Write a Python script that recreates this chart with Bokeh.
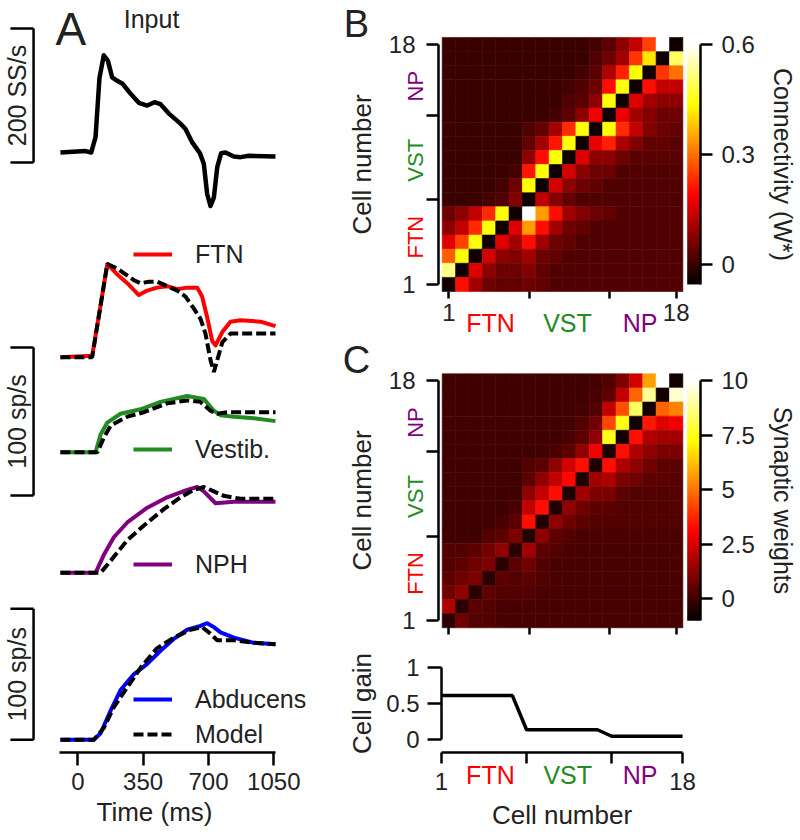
import numpy as np
from math import pi
from bokeh.plotting import figure
from bokeh.models import (Range1d, LinearAxis, FixedTicker, Legend, LegendItem, Label,
                          LinearColorMapper, ColumnDataSource)
from bokeh.layouts import row, column
from bokeh.embed import file_html
from bokeh.resources import INLINE
from bokeh.core.properties import value
from bokeh.transform import linear_cmap

FONT = "Liberation Sans"
INK = "#222222"
RED, GREEN, PURPLE, BLUE = "#ff0000", "#228b22", "#800080", "#0000ff"

# ---------------- Panel A data (time in ms, rates relative to baseline) ----------------
time_ticks = [0, 350, 700, 1050]
input_t = [-93, 41, 72, 95, 116, 139, 161, 184, 211, 238, 282, 327, 372, 411, 443, 488, 550, 577,
           613, 654, 675, 693, 711, 729, 747, 768, 791, 836, 872, 916, 1059]
input_v = [15, 17, 15, 38, 126, 160, 152, 127, 122, 118, 103, 89, 85, 90, 87, 73, 58, 50,
           30, 14, -2, -47, -65, -52, -7, 14, 15, 9, 8, 10, 9]

ftn_t = [-93, 77, 122, 158, 211, 265, 327, 372, 425, 479, 533, 586, 640, 666, 693, 720, 738, 774, 818, 872, 979, 1059]
ftn_v = [0, 1, 35, 63, 56, 50, 42, 45, 47, 48, 46, 47, 47, 41, 27, 11, 8, 17, 24, 25, 24, 21]
ftn_model_t = [-93, 77, 158, 211, 256, 301, 336, 381, 425, 479, 533, 577, 621, 657, 684, 711, 729, 747, 774, 818, 1059]
ftn_model_v = [0, 0, 63, 60, 56, 52, 50, 51, 51, 48, 45, 41, 33, 26, 16, -2, -10, -2, 10, 16, 16]

vest_t = [-93, 95, 122, 158, 229, 336, 443, 586, 675, 729, 765, 836, 943, 1059]
vest_v = [0, 0, 12, 20, 26, 29, 34, 38, 36, 28, 25, 24, 23, 21]
vest_model_t = [-93, 105, 140, 176, 265, 354, 479, 586, 657, 711, 747, 800, 1059]
vest_model_v = [0, 0, 10, 18, 24, 27, 33, 35, 34, 28, 26, 27, 27]

nph_t = [-93, 95, 139, 193, 265, 372, 479, 586, 640, 675, 738, 836, 1059]
nph_v = [0, 0, 12, 24, 34, 44, 51, 56, 58, 55, 47, 48, 48]
nph_model_t = [-93, 122, 175, 265, 354, 461, 550, 621, 675, 729, 782, 872, 1059]
nph_model_v = [0, 0, 8, 22, 32, 43, 51, 56, 58, 55, 52, 50, 50]

abd_t = [-93, 86, 122, 175, 229, 300, 372, 443, 514, 586, 657, 693, 729, 765, 836, 943, 1059]
abd_v = [0, 0, 5, 22, 38, 50, 58, 68, 77, 84, 87, 89, 86, 82, 78, 74, 73]
abd_model_t = [-93, 86, 139, 193, 265, 336, 425, 514, 604, 666, 702, 747, 836, 943, 1059]
abd_model_v = [0, 0, 9, 25, 40, 55, 70, 78, 84, 86, 82, 76, 76, 74, 73]

input_scale = 200   # SS/s
rate_scale = 100    # sp/s

# ---------------- Panel B / C data (rows listed from cell 18 at top down to cell 1) ----------------
cells = list(range(1, 19))
cell_ticks = [1, 7, 13, 18]
groups = ["FTN", "VST", "NP"]
group_colors = [RED, GREEN, PURPLE]

connectivity_rows = [
    [0, 0, 0, 0, 0, 0, 0, 0, 0, 0, 0, 0.01, 0.03, 0.08, 0.13, 0.25, 0.62, -0.04],
    [0, 0, 0, 0, 0, 0, 0, 0, 0, 0, 0, 0.02, 0.05, 0.10, 0.24, 0.41, -0.04, 0.50],
    [0, 0, 0, 0, 0, 0, 0, 0, 0, 0, 0.01, 0.03, 0.11, 0.22, 0.44, -0.04, 0.24, 0.30],
    [0, 0, 0, 0, 0, 0, 0, 0, 0, 0.01, 0.02, 0.05, 0.20, 0.44, -0.04, 0.20, 0.13, 0.13],
    [0, 0, 0, 0, 0, 0, 0, 0, 0, 0.02, 0.03, 0.08, 0.44, -0.04, 0.16, 0.10, 0.08, 0.08],
    [0, 0, 0, 0, 0, 0, 0, 0, 0.01, 0.03, 0.08, 0.18, -0.04, 0.17, 0.10, 0.07, 0.05, 0.05],
    [0, 0, 0, 0, 0, 0, 0.02, 0.04, 0.10, 0.23, 0.44, -0.04, 0.44, 0.23, 0.13, 0.07, 0.05, 0.04],
    [0, 0, 0, 0, 0, 0, 0.04, 0.10, 0.21, 0.44, -0.04, 0.17, 0.22, 0.11, 0.07, 0.04, 0.04, 0.03],
    [0, 0, 0, 0, 0, 0, 0.08, 0.20, 0.44, -0.04, 0.16, 0.08, 0.08, 0.05, 0.03, 0.03, 0.03, 0.03],
    [0, 0, 0, 0, 0, 0.01, 0.21, 0.44, -0.04, 0.15, 0.08, 0.05, 0.05, 0.02, 0.02, 0.02, 0.02, 0.02],
    [0, 0, 0, 0, 0.01, 0.05, 0.44, -0.04, 0.15, 0.08, 0.05, 0.04, 0.02, 0.02, 0.02, 0.02, 0.02, 0.02],
    [0, 0, 0, 0.01, 0.02, 0.07, -0.04, 0.13, 0.07, 0.04, 0.02, 0.02, 0.02, 0.02, 0.02, 0.02, 0.02, 0.02],
    [0.05, 0.08, 0.13, 0.23, 0.44, -0.04, 0.62, 0.34, 0.20, 0.10, 0.07, 0.05, 0.04, 0.02, 0.02, 0.02, 0.02, 0.02],
    [0.08, 0.13, 0.23, 0.44, -0.04, 0.16, 0.34, 0.20, 0.10, 0.05, 0.04, 0.02, 0.02, 0.02, 0.02, 0.02, 0.02, 0.02],
    [0.16, 0.25, 0.44, -0.04, 0.16, 0.10, 0.20, 0.10, 0.05, 0.04, 0.02, 0.02, 0.02, 0.02, 0.02, 0.02, 0.02, 0.02],
    [0.28, 0.44, -0.04, 0.15, 0.08, 0.07, 0.10, 0.05, 0.04, 0.02, 0.02, 0.02, 0.02, 0.02, 0.02, 0.02, 0.02, 0.02],
    [0.52, -0.04, 0.16, 0.08, 0.05, 0.05, 0.07, 0.04, 0.02, 0.02, 0.02, 0.02, 0.02, 0.02, 0.02, 0.02, 0.02, 0.02],
    [-0.04, 0.20, 0.10, 0.05, 0.04, 0.04, 0.05, 0.04, 0.02, 0.02, 0.02, 0.02, 0.02, 0.02, 0.02, 0.02, 0.02, 0.02],
]
connectivity_ticks = [0, 0.3, 0.6]
connectivity_limits = (-0.0545, 0.6)

weight_rows = [
    [0, 0, 0, 0, 0, 0, 0, 0, 0, 0, 0, 0.1, 0.3, 1.0, 2.4, 5.7, 10.0, -0.7],
    [0, 0, 0, 0, 0, 0, 0, 0, 0, 0, 0, 0.2, 0.5, 2.1, 4.7, 8.8, -0.7, 9.5],
    [0, 0, 0, 0, 0, 0, 0, 0, 0, 0, 0.1, 0.3, 2.1, 4.4, 8.3, -0.7, 4.7, 5.2],
    [0, 0, 0, 0, 0, 0, 0, 0, 0, 0.1, 0.3, 0.8, 4.2, 7.5, -0.7, 3.5, 2.6, 2.9],
    [0, 0, 0, 0, 0, 0, 0, 0, 0, 0.2, 0.5, 1.3, 7.5, -0.7, 3.3, 1.8, 1.6, 1.6],
    [0, 0, 0, 0, 0, 0, 0, 0, 0.2, 0.5, 1.3, 2.9, -0.6, 3.3, 1.8, 1.3, 1.0, 1.0],
    [0, 0, 0, 0, 0, 0, 0.3, 0.5, 1.3, 2.4, 3.3, -0.5, 3.3, 1.8, 1.3, 0.8, 0.5, 0.5],
    [0, 0, 0, 0, 0, 0, 0.5, 1.3, 2.1, 3.2, -0.5, 1.6, 1.8, 1.0, 0.8, 0.5, 0.5, 0.4],
    [0, 0, 0, 0, 0, 0, 1.3, 2.1, 3.3, -0.5, 1.6, 1.0, 1.0, 0.5, 0.3, 0.3, 0.3, 0.3],
    [0, 0, 0, 0, 0, 0.2, 2.1, 3.3, -0.5, 1.3, 0.8, 0.5, 0.5, 0.3, 0.3, 0.3, 0.3, 0.3],
    [0, 0, 0, 0, 0.2, 0.5, 3.3, -0.5, 1.3, 0.8, 0.5, 0.3, 0.3, 0.3, 0.3, 0.3, 0.3, 0.3],
    [0, 0, 0, 0.3, 0.5, 1.0, -0.4, 1.3, 0.5, 0.3, 0.2, 0.2, 0.2, 0.2, 0.2, 0.2, 0.2, 0.2],
    [0.3, 0.3, 0.5, 0.8, 1.3, -0.3, 1.6, 0.5, 0.3, 0.15, 0.15, 0.15, 0.15, 0.15, 0.15, 0.15, 0.15, 0.15],
    [0.3, 0.5, 0.8, 1.0, -0.3, 0.5, 0.8, 0.3, 0.15, 0.15, 0.15, 0.15, 0.15, 0.15, 0.15, 0.15, 0.15, 0.15],
    [0.5, 0.8, 1.0, -0.3, 0.5, 0.3, 0.5, 0.3, 0.15, 0.15, 0.15, 0.15, 0.15, 0.15, 0.15, 0.15, 0.15, 0.15],
    [0.8, 1.3, -0.3, 0.5, 0.3, 0.3, 0.3, 0.15, 0.15, 0.15, 0.15, 0.15, 0.15, 0.15, 0.15, 0.15, 0.15, 0.15],
    [1.8, -0.3, 0.5, 0.3, 0.15, 0.15, 0.15, 0.15, 0.15, 0.15, 0.15, 0.15, 0.15, 0.15, 0.15, 0.15, 0.15, 0.15],
    [-0.3, 0.8, 0.3, 0.3, 0.15, 0.15, 0.15, 0.15, 0.15, 0.15, 0.15, 0.15, 0.15, 0.15, 0.15, 0.15, 0.15, 0.15],
]
weight_ticks = [0, 2.5, 5, 7.5, 10]
weight_limits = (-1.0, 10.0)

cell_gain = [0.61, 0.61, 0.61, 0.61, 0.61, 0.61, 0.135, 0.135, 0.135, 0.135, 0.135, 0.135,
             0.045, 0.045, 0.045, 0.045, 0.045, 0.045]
gain_ticks = [0, 0.5, 1]


def hot_palette(n=256):
    n1 = int(3 * n / 8); n2 = n1; n3 = n - n1 - n2
    out = []
    for i in range(n):
        r = min(1.0, (i + 1) / n1)
        g = min(1.0, max(0.0, (i + 1 - n1) / n2))
        b = min(1.0, max(0.0, (i + 1 - n1 - n2) / n3))
        out.append("#%02x%02x%02x" % (round(r * 255), round(g * 255), round(b * 255)))
    return out


HOT = hot_palette()


def style_axis(ax, tick_out, label_standoff, title_standoff=None, title_size="26px"):
    ax.axis_line_width = 2.5
    ax.major_tick_line_width = 2.5
    ax.major_tick_out = tick_out
    ax.major_tick_in = 0
    ax.minor_tick_out = 0
    ax.minor_tick_in = 0
    ax.major_label_text_font = FONT
    ax.major_label_text_font_size = "24px"
    ax.major_label_text_color = INK
    ax.major_label_standoff = label_standoff
    ax.axis_label_text_font = FONT
    ax.axis_label_text_font_size = title_size
    ax.axis_label_text_font_style = "normal"
    ax.axis_label_text_color = INK
    if title_standoff is not None:
        ax.axis_label_standoff = title_standoff


def overrides(ticks, shown):
    return {t: (str(t) if t in shown else "") for t in ticks}


def bare_figure(width, height, x_range, y_range):
    p = figure(frame_width=width, frame_height=height, x_range=x_range, y_range=y_range,
               x_axis_location=None, y_axis_location=None, toolbar_location=None,
               output_backend="svg", min_border_left=0, min_border_right=0,
               min_border_top=0, min_border_bottom=0)
    p.grid.visible = False
    p.outline_line_color = None
    return p


def add_label(p, x, y, text, color=INK, size="25px", angle=0, align="center", **kw):
    p.add_layout(Label(x=x, y=y, text=text, angle=angle, text_align=align,
                       text_baseline="middle", text_font=FONT, text_font_size=size,
                       text_color=color, **kw))


# ---------------- Panel A ----------------
A_TOP, A_BOTTOM = 0, 752   # frame top/bottom on the page
T0_PX, PX_PER_MS = 77.3, 0.18667


def anchored(zero_py, px_per_unit):
    return Range1d(start=-(A_BOTTOM - zero_py) / px_per_unit, end=(zero_py - A_TOP) / px_per_unit)


pA = figure(frame_width=308, frame_height=752,
            x_range=Range1d(-T0_PX / PX_PER_MS, (308 - T0_PX) / PX_PER_MS), y_range=Range1d(0, 1),
            y_axis_type=None, toolbar_location=None, output_backend="svg",
            min_border_left=0, min_border_right=0, min_border_top=0, min_border_bottom=80)
pA.extra_y_ranges = {
    "input": anchored(162, 0.67),
    "ftn": anchored(356.7, 1.48),
    "vest": anchored(451.7, 1.48),
    "nph": anchored(572.3, 1.48),
    "midbar": anchored(495, 1.48),
    "abd": anchored(739.3, 1.31),
}
pA.grid.visible = False
pA.outline_line_color = None

pA.line(input_t, input_v, y_range_name="input", color="black", line_width=4.5, line_join="round")
r_ftn = pA.line(ftn_t, ftn_v, y_range_name="ftn", color=RED, line_width=4, line_join="round")
pA.line(ftn_model_t, ftn_model_v, y_range_name="ftn", color="black", line_width=4, line_dash="10 4")
r_vest = pA.line(vest_t, vest_v, y_range_name="vest", color=GREEN, line_width=4, line_join="round")
pA.line(vest_model_t, vest_model_v, y_range_name="vest", color="black", line_width=4, line_dash="10 4")
r_nph = pA.line(nph_t, nph_v, y_range_name="nph", color=PURPLE, line_width=4, line_join="round")
pA.line(nph_model_t, nph_model_v, y_range_name="nph", color="black", line_width=4, line_dash="10 4")
r_abd = pA.line(abd_t, abd_v, y_range_name="abd", color=BLUE, line_width=4, line_join="round")
r_model = pA.line(abd_model_t, abd_model_v, y_range_name="abd", color="black", line_width=4, line_dash="10 4")

# scale bars
BAR_X, BAR_TICK_X, BAR_LABEL_X = -237, -361, -328
for rng, size, label in [("input", input_scale, "200 SS/s"), ("midbar", rate_scale, "100 sp/s"),
                         ("abd", rate_scale, "100 sp/s")]:
    pA.segment(x0=[BAR_X, BAR_TICK_X, BAR_TICK_X], y0=[0, 0, size], x1=[BAR_X, BAR_X, BAR_X],
               y1=[size, 0, size], y_range_name=rng, color="black", line_width=2.5)
    pA.text(x=[BAR_LABEL_X], y=[size / 2], text=[label], angle=pi / 2, y_range_name=rng,
            text_align="center", text_baseline="middle", text_font=value(FONT),
            text_font_size="25px", text_color=INK)

ax = pA.xaxis[0]
ax.ticker = FixedTicker(ticks=time_ticks)
ax.bounds = (-100, 1060)
ax.axis_label = "Time (ms)"
style_axis(ax, 13, 7, 4)

add_label(pA, -120, 199, "A", size="46px", align="left", y_range_name="input")
add_label(pA, 395, 214, "Input", size="25px", y_range_name="input")


def legend(items, vy):
    lg = Legend(items=[LegendItem(label=value(t), renderers=[r]) for t, r in items],
                location=(133, vy), padding=0, margin=0, spacing=5, glyph_width=39,
                glyph_height=30, label_height=30, label_standoff=23,
                label_text_font=FONT, label_text_font_size="25px", label_text_color=INK,
                background_fill_alpha=0, border_line_alpha=0)
    pA.add_layout(lg)


legend([("FTN", r_ftn)], 483)
legend([("Vestib.", r_vest)], 288)
legend([("NPH", r_nph)], 173)
legend([("Abducens", r_abd), ("Model", r_model)], 3)

# ---------------- Panels B and C (frame = whole panel, axes at fixed places) ----------------
RIGHT_X0, RIGHT_X1 = 308, 800      # page x span of the right column
CELL_W, CELL_H = 13.37, 14.11
MAP_LEFT = 441.7                    # page x of the first cell's left edge


def hx(px):
    return 0.5 + (px - MAP_LEFT) / CELL_W


def heatmap(rows, limits, ticks, cb_label, letter, page_top, page_bottom, map_bottom, x_labels):
    lo, hi = limits

    def hy(py):
        return 0.5 + (map_bottom - py) / CELL_H

    y0, y1 = hy(page_bottom), hy(page_top)
    p = bare_figure(RIGHT_X1 - RIGHT_X0, page_bottom - page_top,
                    Range1d(hx(RIGHT_X0), hx(RIGHT_X1)), Range1d(y0, y1))

    xs, ys, vs = [], [], []
    for i, r in enumerate(rows):
        for j, v in enumerate(r):
            xs.append(cells[j]); ys.append(cells[17 - i]); vs.append(v)
    src = ColumnDataSource(dict(x=xs, y=ys, v=vs))
    cmap = linear_cmap("v", HOT, lo, hi)
    p.rect(x="x", y="y", width=1, height=1, source=src, fill_color=cmap, line_color=cmap,
           line_width=0.6)

    # colour bar: its value axis maps cell 1 -> lo and cell 18 -> hi
    per_cell = (hi - lo) / 17
    p.extra_y_ranges = {"cb": Range1d(lo + (y0 - 1) * per_cell, lo + (y1 - 1) * per_cell)}
    mapper = LinearColorMapper(palette=HOT, low=lo, high=hi)
    cb_left, cb_right = hx(686.7), hx(700)
    p.image(image=[np.linspace(lo, hi, 256).reshape(-1, 1)], x=cb_left, y=lo,
            dw=cb_right - cb_left, dh=hi - lo, color_mapper=mapper, y_range_name="cb")

    yax = LinearAxis(fixed_location=hx(438), ticker=FixedTicker(ticks=cell_ticks),
                     bounds=(1, 18), axis_label="Cell number",
                     major_label_overrides=overrides(cell_ticks, [1, 18]))
    style_axis(yax, 12, 11, 9)
    p.add_layout(yax, "left")

    xax = LinearAxis(fixed_location=0.5, ticker=FixedTicker(ticks=cell_ticks),
                     major_label_overrides=overrides(cell_ticks, [1, 18]))
    style_axis(xax, 7, 5)
    xax.axis_line_color = None
    if not x_labels:
        xax.major_label_text_color = None
    p.add_layout(xax, "below")

    cax = LinearAxis(fixed_location=cb_right, y_range_name="cb", ticker=FixedTicker(ticks=ticks),
                     bounds=(lo, hi), axis_label=cb_label,
                     major_label_overrides={t: ("%g" % t) for t in ticks})
    style_axis(cax, 12, 9, 11, "25px")
    p.add_layout(cax, "right")

    for g, c, yc in zip(groups, group_colors, [4.35, 9.8, 15.05]):
        add_label(p, hx(414.5), yc, g, color=c, size="22px", angle=pi / 2)
    if x_labels:
        for g, c, xc in zip(groups, group_colors, [4.11, 9.87, 15.3]):
            add_label(p, xc, hy(map_bottom + 31), g, color=c, size="25px")
    add_label(p, hx(356), hy(map_bottom - 267.5), letter, size="38px")
    return p


pB = heatmap(connectivity_rows, connectivity_limits, connectivity_ticks, "Connectivity (W*)",
             "B", 0, 335, 291.0, True)
pC = heatmap(weight_rows, weight_limits, weight_ticks, "Synaptic weights", "C", 335, 640, 627.3, False)

# ---------------- Cell gain ----------------
G_TOP, G_BOTTOM = 640, 836
GAIN_X1_PX, GAIN_PX_PER_CELL, GAIN_ZERO_PY, GAIN_PX_PER_UNIT = 441, 14.18, 739, 72


def gx(px):
    return 1 + (px - GAIN_X1_PX) / GAIN_PX_PER_CELL


def gy(py):
    return (GAIN_ZERO_PY - py) / GAIN_PX_PER_UNIT


pG = bare_figure(RIGHT_X1 - RIGHT_X0, G_BOTTOM - G_TOP, Range1d(gx(RIGHT_X0), gx(RIGHT_X1)),
                 Range1d(gy(G_BOTTOM), gy(G_TOP)))
pG.line(cells, cell_gain, color="black", line_width=3.5)

g_xax = LinearAxis(fixed_location=gy(752), ticker=FixedTicker(ticks=cell_ticks), bounds=(1, 18),
                   axis_label="Cell number", major_label_overrides=overrides(cell_ticks, [1, 18]))
style_axis(g_xax, 11, 9, 7)
pG.add_layout(g_xax, "below")

g_yax = LinearAxis(fixed_location=1, ticker=FixedTicker(ticks=gain_ticks), bounds=(0, 1),
                   axis_label="Cell gain",
                   major_label_overrides={t: ("%g" % t) for t in gain_ticks})
style_axis(g_yax, 14, 8, 6)
pG.add_layout(g_yax, "left")

for g, c, xc in zip(groups, group_colors, [4.45, 9.9, 15.0]):
    add_label(pG, xc, gy(774), g, color=c, size="25px")

layout = row(pA, column(pB, pC, pG))
open("out.html", "w").write(file_html(layout, INLINE))
